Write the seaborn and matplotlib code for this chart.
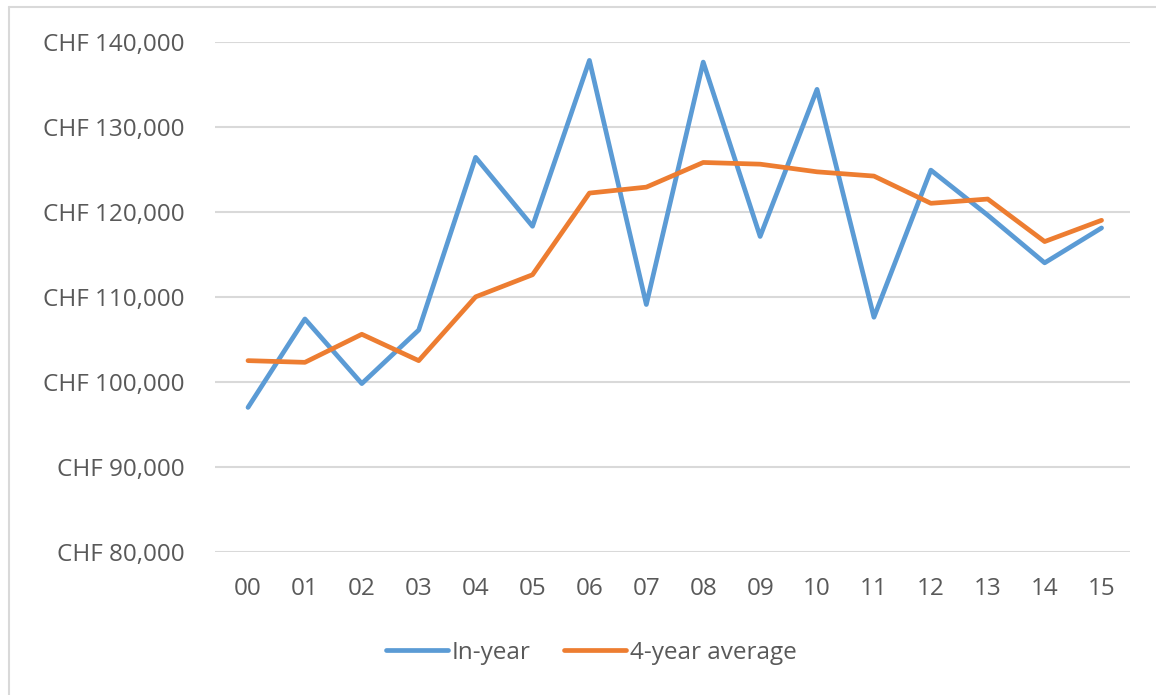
import matplotlib
matplotlib.use("Agg")
import matplotlib.pyplot as plt
import matplotlib.ticker as mticker
from matplotlib.lines import Line2D
import seaborn as sns
import pandas as pd

years = ["00", "01", "02", "03", "04", "05", "06", "07", "08", "09", "10", "11", "12", "13", "14", "15"]
in_year = [97000, 107400, 99800, 106100, 126400, 118300, 137800, 109100, 137600, 117100,
           134400, 107600, 124900, 119600, 114000, 118100]
avg4 = [102500, 102300, 105600, 102500, 110000, 112600, 122200, 122900, 125800, 125600,
        124700, 124200, 121000, 121500, 116500, 119000]
series_names = ["In-year", "4-year average"]
y_ticks = [80000, 90000, 100000, 110000, 120000, 130000, 140000]

sns.set_theme(style="white")
plt.rcParams['font.family'] = ['Open Sans', 'DejaVu Sans']

df = pd.DataFrame({
    "x": list(range(len(years))) * 2,
    "value": in_year + avg4,
    "series": [series_names[0]] * len(years) + [series_names[1]] * len(years),
})

W, H = 1156, 695
fig = plt.figure(figsize=(W / 100, H / 100), dpi=100)
ax = fig.add_axes([215 / W, 1 - 552 / H, (1130 - 215) / W, (552 - 41.7) / H])

palette = {series_names[0]: "#5B9BD5", series_names[1]: "#ED7D31"}
sns.lineplot(data=df, x="x", y="value", hue="series", palette=palette, ax=ax,
             linewidth=3.4, legend=False, sort=False)

ax.set_xlim(-0.58, 15.5)
ax.set_ylim(80000, 140000)
ax.set_yticks(y_ticks)
ax.yaxis.set_major_formatter(mticker.FuncFormatter(lambda v, p: f"CHF {int(v):,}"))
ax.set_xticks(range(len(years)))
ax.set_xticklabels(years)
ax.set_xlabel("")
ax.set_ylabel("")
for s in ax.spines.values():
    s.set_visible(False)
ax.grid(axis="y", color="#D9D9D9", linewidth=1.5)
ax.grid(axis="x", visible=False)
ax.set_axisbelow(True)
ax.tick_params(axis="both", length=0, labelsize=17.5, labelcolor="#595959")
ax.tick_params(axis="y", pad=22)
ax.tick_params(axis="x", pad=18)

handles = [Line2D([0], [0], color=palette[n], linewidth=3.4) for n in series_names]
leg = fig.legend(handles, series_names, loc="center", bbox_to_anchor=(591 / W, 1 - 653 / H),
                 ncol=2, frameon=False, fontsize=17.5, handlelength=2.55, handletextpad=0.15,
                 columnspacing=1.4)
for t in leg.get_texts():
    t.set_color("#595959")

# chart border (top and left visible)
fig.add_artist(Line2D([9 / W, 1], [1 - 7 / H, 1 - 7 / H], color="#D9D9D9", linewidth=1.5,
                      transform=fig.transFigure))
fig.add_artist(Line2D([9 / W, 9 / W], [0, 1 - 7 / H], color="#D9D9D9", linewidth=1.5,
                      transform=fig.transFigure))

fig.savefig("out.png", dpi=100, facecolor="white")
